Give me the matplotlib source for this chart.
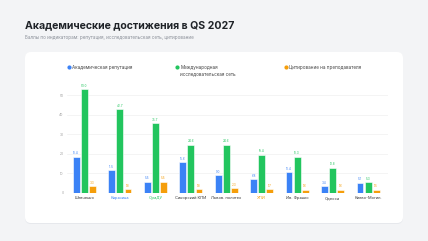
import numpy as np
import matplotlib as mpl
mpl.use('Agg')
import matplotlib.pyplot as plt
from matplotlib.patches import FancyBboxPatch

plt.rcParams['font.family'] = ['Inter', 'DejaVu Sans']

universities = ['Шевченко', 'Каразина', 'СумДУ', 'Сикорский КПИ', 'Львов. политех',
                'ХПИ', 'Ив. Франко', 'Одесса', 'Киево-Могил.']
label_colors = ['#333333', '#3b82f6', '#22c55e', '#333333', '#333333',
                '#f59e0b', '#333333', '#333333', '#333333']
academic = [18.4, 11.5, 5.5, 15.6, 9.0, 6.8, 10.4, 3.4, 5.1]
network = [53.0, 42.7, 35.7, 24.6, 24.6, 19.4, 18.3, 12.8, 5.3]
citations = [3.3, 1.8, 5.5, 1.8, 2.3, 1.7, 1.6, 1.6, 1.5]
series_names = ['Академическая репутация', 'Международная\nисследовательская сеть',
                'Цитирование на преподавателя']
colors = ['#3b82f6', '#22c55e', '#f59e0b']
yticks = [0, 10, 20, 30, 40, 50]

W, H = 428, 241
fig = plt.figure(figsize=(W / 100, H / 100), dpi=100)
fig.patch.set_facecolor('#f3f4f6')

def px(x, y):
    return x / W, 1 - y / H

# title block
fig.text(*px(25, 25), 'Академические достижения в QS 2027', fontsize=7.6,
         fontweight='bold', color='#1f2328', va='center', ha='left')
fig.text(*px(25, 38), 'Баллы по индикаторам: репутация, исследовательская сеть, цитирование',
         fontsize=3.3, color='#8a8f98', va='center', ha='left')

# card
bg = fig.add_axes([0, 0, 1, 1], zorder=0)
bg.set_xlim(0, W)
bg.set_ylim(H, 0)
bg.axis('off')
bg.add_patch(FancyBboxPatch((25, 53), 378, 171, boxstyle='round,pad=0,rounding_size=6',
                            fc='#e6e8ec', ec='none'))
bg.add_patch(FancyBboxPatch((25, 52), 378, 171, boxstyle='round,pad=0,rounding_size=6',
                            fc='white', ec='none'))

# legend
leg_x = [69, 177, 286]
for lx, name, c in zip(leg_x, series_names, colors):
    bg.scatter([lx], [67], s=4, color=c, zorder=3)
    bg.text(lx + 3.5, 64.6, name, fontsize=3.3, color='#444444', va='top', ha='left',
            linespacing=1.3)

# chart
ax = fig.add_axes([67 / W, (H - 192.7) / H, (388 - 67) / W, (192.7 - 85.5) / H], zorder=2)
ax.patch.set_alpha(0)
x = np.arange(len(universities))
step = 0.228
bw = 0.19
for i, (vals, c) in enumerate(zip([academic, network, citations], colors)):
    pos = x + (i - 1) * step
    ax.bar(pos, vals, width=bw, color=c, edgecolor='white', linewidth=0.4, zorder=3)
    for p, v in zip(pos, vals):
        ax.text(p, v + 0.8, f'{v:.1f}', fontsize=2.2, color=c, ha='center', va='bottom',
                clip_on=False)

ax.set_xlim(-0.49, 8.56)
ax.set_ylim(0, 55)
ax.set_yticks(yticks)
ax.set_yticklabels([str(t) for t in yticks], fontsize=2.4, color='#999999')
ax.set_xticks(x)
ax.set_xticklabels(universities, fontsize=2.9)
for lbl, c in zip(ax.get_xticklabels(), label_colors):
    lbl.set_color(c)
ax.tick_params(length=0, pad=2.5)
ax.grid(axis='y', color='#f0f0f0', linewidth=0.5, zorder=0)
for s in ax.spines.values():
    s.set_visible(False)

fig.savefig('out.png', dpi=100, facecolor=fig.get_facecolor())
